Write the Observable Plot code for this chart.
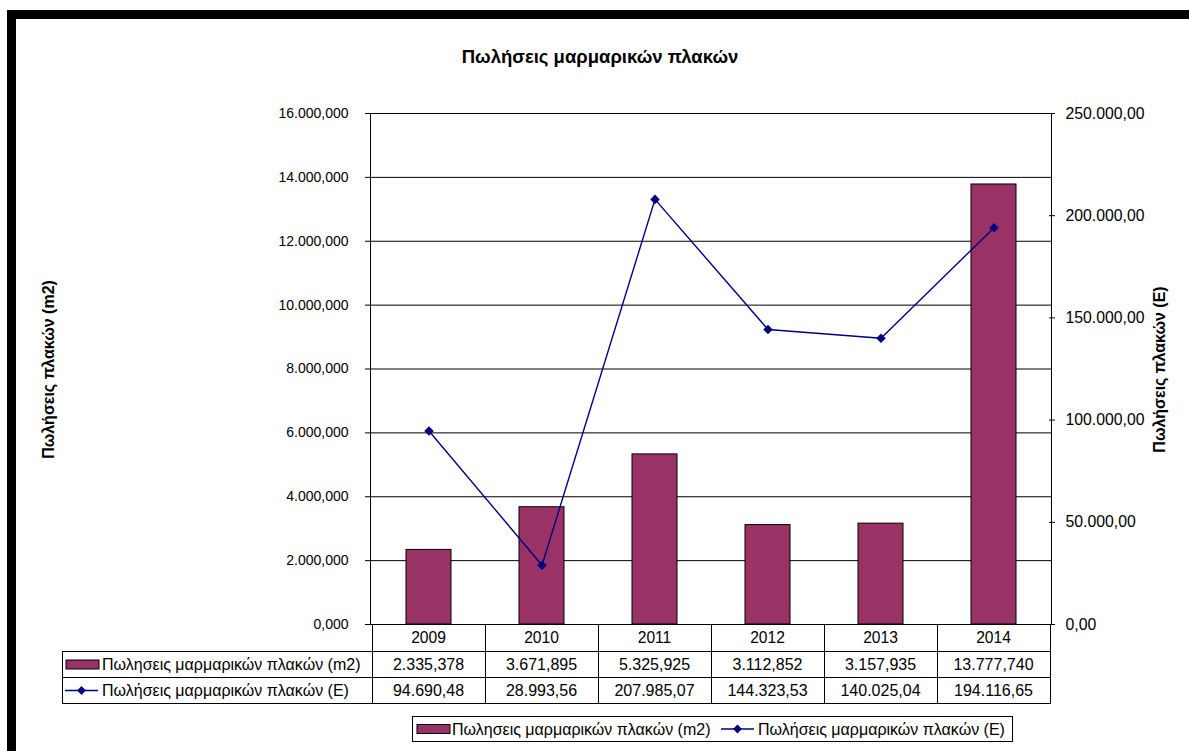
<!DOCTYPE html>
<html><head><meta charset="utf-8">
<script src="https://cdn.jsdelivr.net/npm/d3@7"></script>
<script src="https://cdn.jsdelivr.net/npm/@observablehq/plot@0.6"></script>
<style>
body{margin:0;background:#fff;font-family:"Liberation Sans",Arial,sans-serif;}
#wrap{position:relative;width:1189px;height:751px;overflow:hidden;background:#fff;}
#frame{position:absolute;left:7px;top:10px;width:2000px;height:2000px;border-left:9px solid #000;border-top:9px solid #000;z-index:2;pointer-events:none;}
#chart{position:absolute;left:0;top:0;z-index:1;}
</style></head><body>
<div id="wrap"><div id="chart"></div><div id="frame"></div></div>
<script>
// ---- data ----
const years = ["2009", "2010", "2011", "2012", "2013", "2014"];
const salesM2 = [2335.378, 3671.895, 5325.925, 3112.852, 3157.935, 13777.740];
const salesE = [94690.48, 28993.56, 207985.07, 144323.53, 140025.04, 194116.65];
const leftTicks = [0, 2000, 4000, 6000, 8000, 10000, 12000, 14000, 16000];
const rightTicks = [0, 50000, 100000, 150000, 200000, 250000];
const title = "Πωλήσεις μαρμαρικών πλακών";
const leftTitle = "Πωλήσεις πλακών (m2)";
const rightTitle = "Πωλήσεις πλακών (E)";
const seriesM2Name = "Πωλησεις μαρμαρικών πλακών (m2)";
const seriesEName = "Πωλήσεις μαρμαρικών πλακών (E)";

const barColor = "#993366";
const lineColor = "#000080";
const font = "'Liberation Sans', Arial, sans-serif";
const fsLeft = 14, fsRight = 15.8, fs = 16;

const loc = d3.formatLocale({decimal: ",", thousands: ".", grouping: [3], currency: ["", ""]});
const fmt3 = loc.format(",.3f");
const fmt2 = loc.format(",.2f");

const leftMax = leftTicks[leftTicks.length - 1];
const rightMax = rightTicks[rightTicks.length - 1];
const k = leftMax / rightMax;

const data = years.map((y, i) => ({year: y, m2: salesM2[i], e: salesE[i]}));

const plot = Plot.plot({
  width: 1189,
  height: 751,
  marginLeft: 370,
  marginRight: 138,
  marginTop: 113,
  marginBottom: 127,
  style: {fontFamily: font, fontSize: fsLeft + "px", color: "#000", background: "transparent", overflow: "visible"},
  x: {type: "band", domain: years, padding: 0, axis: null},
  y: {domain: [0, leftMax], axis: null},
  marks: [
    Plot.ruleY(leftTicks, {stroke: "#000", strokeWidth: 1}),
    Plot.barY(data, {x: "year", y: "m2", fill: barColor, stroke: "#000", strokeWidth: 1, insetLeft: 34, insetRight: 34}),
    Plot.frame({stroke: "#000", strokeWidth: 1}),
    Plot.axisY(leftTicks, {anchor: "left", tickFormat: fmt3, tickSize: 5, tickPadding: 17, label: null, fontSize: fsLeft}),
    Plot.axisY(rightTicks.map(v => v * k), {anchor: "right", tickFormat: d => fmt2(d / k), tickSize: 3, tickPadding: 11, label: null, fontSize: fsRight}),
    Plot.axisY(rightTicks.map(v => v * k), {anchor: "right", tickFormat: () => "", tickSize: -3, label: null}),
    Plot.line(data, {x: "year", y: d => d.e * k, stroke: lineColor, strokeWidth: 1.4}),
    Plot.dot(data, {x: "year", y: d => d.e * k, symbol: "diamond2", r: 4.3, fill: lineColor, stroke: "none"})
  ]
});
document.getElementById("chart").appendChild(plot);

// ---- annotations & data table using Plot's scales ----
const svg = d3.select(plot);
const xs = plot.scale("x");
const ys = plot.scale("y");
const bw = xs.bandwidth;
const y0 = ys.apply(0);
const yTop = ys.apply(leftMax);
const xL = xs.apply(years[0]);
const xR = xs.apply(years[years.length - 1]) + bw;
const g = svg.append("g").attr("font-family", font).attr("font-size", fs).attr("fill", "#000").attr("text-anchor", "start");

// title
g.append("text").attr("x", 600).attr("y", yTop - 56)
  .attr("text-anchor", "middle").attr("dy", "0.35em").attr("font-weight", "bold").attr("font-size", 18.5).text(title);
// axis titles
const midY = (y0 + yTop) / 2 + 1;
g.append("text").attr("transform", `translate(${xL - 324},${midY}) rotate(-90)`)
  .attr("text-anchor", "middle").attr("dy", "0.35em").attr("font-weight", "bold").attr("font-size", 16).text(leftTitle);
g.append("text").attr("transform", `translate(${xR + 109},${midY}) rotate(-90)`)
  .attr("text-anchor", "middle").attr("dy", "0.35em").attr("font-weight", "bold").attr("font-size", 16).text(rightTitle);

// table
const r0 = y0, r1 = y0 + 27, r2 = y0 + 53, r3 = y0 + 79;
const xHead = 62;
const tl = g.append("g").attr("stroke", "#000").attr("stroke-width", 1).attr("shape-rendering", "crispEdges");
years.forEach(y => {
  const x = xs.apply(y);
  tl.append("line").attr("x1", x + 0.5).attr("x2", x + 0.5).attr("y1", r0).attr("y2", r3 + 0.5);
});
tl.append("line").attr("x1", xR + 0.5).attr("x2", xR + 0.5).attr("y1", r0).attr("y2", r3 + 0.5);
tl.append("line").attr("x1", xHead + 0.5).attr("x2", xHead + 0.5).attr("y1", r1).attr("y2", r3 + 0.5);
[r1, r2, r3].forEach(r => tl.append("line").attr("x1", xHead).attr("x2", xR + 0.5).attr("y1", r + 0.5).attr("y2", r + 0.5));

years.forEach((y, i) => {
  const cx = xs.apply(y) + bw / 2;
  g.append("text").attr("x", cx).attr("y", (r0 + r1) / 2).attr("dy", "0.35em").attr("text-anchor", "middle").attr("font-size", 15.6).text(y);
  g.append("text").attr("x", cx).attr("y", (r1 + r2) / 2 + 0.5).attr("dy", "0.35em").attr("text-anchor", "middle").text(fmt3(salesM2[i]));
  g.append("text").attr("x", cx).attr("y", (r2 + r3) / 2 + 0.5).attr("dy", "0.35em").attr("text-anchor", "middle").text(fmt2(salesE[i]));
});

function barSymbol(x, yc) {
  g.append("rect").attr("x", x).attr("y", yc - 4.5).attr("width", 33).attr("height", 9)
    .attr("fill", barColor).attr("stroke", "#000").attr("stroke-width", 1);
}
function lineSymbol(x, yc) {
  g.append("line").attr("x1", x).attr("x2", x + 33).attr("y1", yc).attr("y2", yc).attr("stroke", lineColor).attr("stroke-width", 1.4);
  g.append("path").attr("d", d3.symbol(d3.symbolDiamond2, 50)()).attr("transform", `translate(${x + 16.5},${yc})`).attr("fill", lineColor);
}
// row headers
const row1c = (r1 + r2) / 2 + 0.5, row2c = (r2 + r3) / 2 + 0.5;
barSymbol(66, row1c);
g.append("text").attr("x", 102).attr("y", row1c).attr("dy", "0.35em").attr("text-anchor", "start").text(seriesM2Name);
lineSymbol(65, row2c);
g.append("text").attr("x", 102).attr("y", row2c).attr("dy", "0.35em").attr("text-anchor", "start").text(seriesEName);

// legend
const lgTop = r3 + 13, lgBot = r3 + 38;
g.append("rect").attr("x", 412.5).attr("y", lgTop + 0.5).attr("width", 600).attr("height", lgBot - lgTop)
  .attr("fill", "#fff").attr("stroke", "#000").attr("stroke-width", 1);
const lgc = (lgTop + lgBot) / 2 + 0.5;
barSymbol(417, lgc);
g.append("text").attr("x", 452).attr("y", lgc).attr("dy", "0.35em").attr("text-anchor", "start").text(seriesM2Name);
lineSymbol(721, lgc);
g.append("text").attr("x", 758).attr("y", lgc).attr("dy", "0.35em").attr("text-anchor", "start").text(seriesEName);
</script>
</body></html>
